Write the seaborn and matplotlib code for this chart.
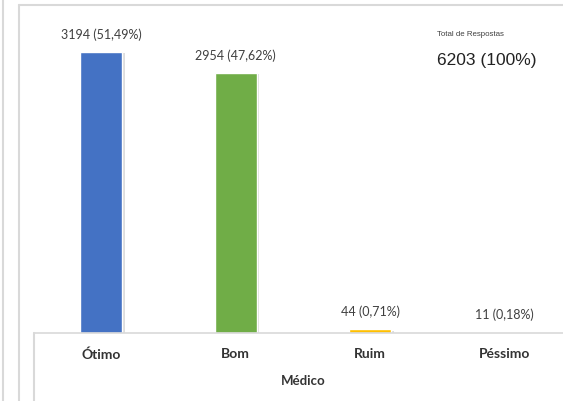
import matplotlib
matplotlib.use("Agg")
import matplotlib.pyplot as plt
import matplotlib.patheffects as pe
from matplotlib.lines import Line2D
import seaborn as sns
import pandas as pd

# dados
categorias = ["Ótimo", "Bom", "Ruim", "Péssimo"]
respostas = [3194, 2954, 44, 11]
percentuais = ["51,49%", "47,62%", "0,71%", "0,18%"]
cores = ["#4472C4", "#70AD47", "#FFC000", "#A5A5A5"]
total_titulo = "Total de Respostas"
total_texto = "6203 (100%)"
eixo_titulo = "Médico"

W, H = 563, 401
sns.set_theme(style="white")
plt.rcParams["font.family"] = ["Lato", "DejaVu Sans"]

df = pd.DataFrame({"categoria": categorias, "respostas": respostas})

fig = plt.figure(figsize=(W / 100, H / 100), dpi=100)
fig.patch.set_facecolor("white")


def fx(px):
    return px / W


def fy(py):
    return 1 - py / H


ax = fig.add_axes([fx(34), fy(333), fx(572) - fx(34), fy(5) - fy(333)])
ax.set_facecolor("none")

sns.barplot(data=df, x="categoria", y="respostas", hue="categoria",
            palette=cores, width=0.31, legend=False, ax=ax,
            saturation=1)

for patch in ax.patches:
    patch.set_path_effects([pe.SimplePatchShadow(offset=(2, -1), shadow_rgbFace="#aaaaaa", alpha=0.4),
                            pe.Normal()])

ax.set_xlim(-0.5, 3.5)
ax.set_ylim(0, 3727)

for i, (v, p) in enumerate(zip(respostas, percentuais)):
    ax.annotate(f"{v} ({p})", (i, v), xytext=(0, 8), textcoords="offset points",
                ha="center", va="bottom", fontsize=9, color="#404040")

for s in ["top", "left", "right"]:
    ax.spines[s].set_visible(False)
ax.spines["bottom"].set_color("#D9D9D9")
ax.spines["bottom"].set_linewidth(1.2)
ax.set_yticks([])
ax.set_ylabel("")
ax.tick_params(axis="x", length=0, pad=11, labelsize=10, labelcolor="#333333")
for t in ax.get_xticklabels():
    t.set_fontweight("bold")
ax.set_xlabel(eixo_titulo, fontsize=9.5, fontweight="bold", color="#333333", labelpad=10)

# moldura cinza
linhas = [((3, 3), (0, H)), ((19, 19), (5, H)), ((19, W), (5, 5)), ((34, 34), (333, H))]
for xs, ys in linhas:
    fig.add_artist(Line2D([fx(xs[0]), fx(xs[1])], [fy(ys[0]), fy(ys[1])],
                          color="#D9D9D9", linewidth=1.5))

fig.text(fx(437), fy(35), total_titulo, fontsize=5.7, color="#404040",
         family=["Liberation Sans"], va="center", ha="left")
fig.text(fx(437), fy(60), total_texto, fontsize=12.5, color="#222222",
         family=["Liberation Sans"], va="center", ha="left")

fig.savefig("out.png", dpi=100, facecolor="white")
